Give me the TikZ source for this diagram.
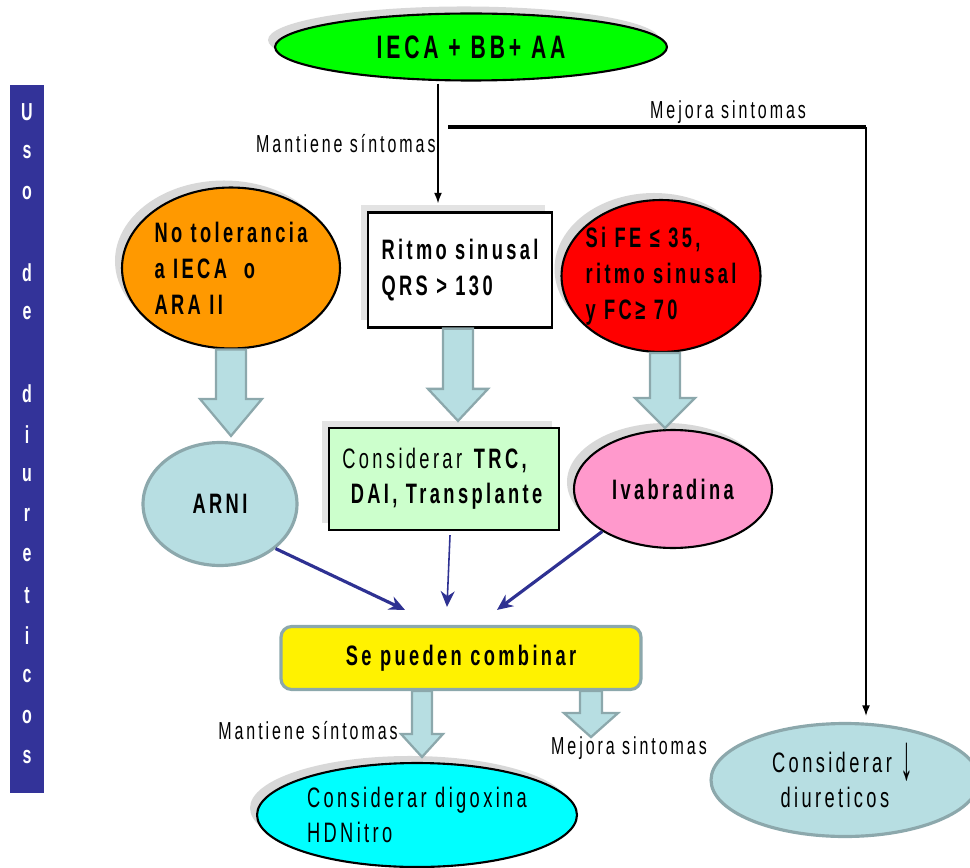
\documentclass[tikz,border=0pt]{standalone}
\usepackage{fontspec}
\setmainfont{Liberation Sans}[FakeStretch=0.65,LetterSpace=12]
\usetikzlibrary{shadows}
\usetikzlibrary{positioning}
\usetikzlibrary{arrows.meta,shapes}
\usetikzlibrary{calc}
\definecolor{barblue}{HTML}{333399}
\definecolor{navyline}{HTML}{2E3192}
\definecolor{paleblue}{HTML}{B7DEE2}
\definecolor{paleedge}{HTML}{8CA8AC}
\definecolor{limegreen}{HTML}{00FF00}
\definecolor{orangefill}{HTML}{FF9900}
\definecolor{pinkfill}{HTML}{FF99CC}
\definecolor{mintfill}{HTML}{CCFFCC}
\definecolor{aquafill}{HTML}{00FFFF}
\tikzstyle{oval}=[ellipse,draw=black,line width=1.2pt,inner sep=0pt,drop shadow={shadow xshift=-4pt,shadow yshift=4pt,fill=black!30,opacity=0.5}]
\tikzstyle{square}=[rectangle,draw=black,line width=1.3pt,inner sep=0pt,drop shadow={shadow xshift=-4pt,shadow yshift=4pt,fill=black!22,opacity=0.5}]
\tikzstyle{paleoval}=[ellipse,draw=paleedge,fill=paleblue,line width=1.8pt,inner sep=0pt]
\tikzstyle{boldtext}=[font=\fontsize{16}{20.5}\selectfont\bfseries]
\tikzstyle{plaintext}=[font=\fontsize{16}{20}\selectfont]
\tikzstyle{sidenote}=[font=\fontsize{14}{16}\selectfont,inner sep=1pt]
\tikzstyle{sidebar}=[rectangle,fill=barblue,minimum width=0.68cm,minimum height=14.16cm,inner sep=0pt]
\tikzstyle{barletter}=[text=white,font=\fontsize{14}{14}\selectfont\bfseries,inner sep=0pt]
\tikzstyle{fatarrow}=[draw=paleedge,fill=paleblue,line width=1.3pt]
\tikzstyle{navyedge}=[draw=navyline,line width=1.8pt,-{Stealth[length=9pt,width=8pt]}]
\tikzstyle{thinedge}=[draw=black,line width=0.8pt,-{Latex[length=6pt,width=4.5pt]}]
\tikzstyle{thickline}=[draw=black,line width=1.8pt]

\begin{document}
\begin{tikzpicture}[x=0.02cm,y=-0.02cm]
    \useasboundingbox (0,0) rectangle (970,868);

    % side bar
    \node[sidebar] (bar) at (27,439) {};
    \foreach \ch/\row in {U/0,s/1,o/2,d/4,e/5,d/7,i/8,u/9,r/10,e/11,t/12,i/13,c/14,o/15,s/16}
        \node[barletter] (letter\row) at (27,{112+40.3*\row}) {\ch};

    % nodes
    \node[oval,fill=limegreen,minimum width=7.84cm,minimum height=1.34cm,font=\fontsize{18.5}{20}\selectfont\bfseries] (ieca) at (471,47) {IECA + BB+ AA};
    \node[oval,fill=orangefill,minimum width=4.36cm,minimum height=3.22cm,inner sep=-8pt,boldtext,align=left] (orange) at (231,268) {No tolerancia\\a IECA\ \ o\\ARA II};
    \node[square,fill=white,minimum width=3.68cm,minimum height=2.3cm,boldtext,align=left] (ritmo) at (460,270) {Ritmo sinusal\\QRS > 130};
    \node[oval,fill=red,minimum width=3.98cm,minimum height=3.04cm,inner sep=-8pt,boldtext,align=left] (red) at (661,276) {Si FE ≤ 35,\\ritmo sinusal\\y FC≥ 70};
    \node[paleoval,minimum width=3.08cm,minimum height=2.46cm,boldtext] (arni) at (220,504) {ARNI};
    \node[square,fill=mintfill,minimum width=4.6cm,minimum height=2.04cm,plaintext,align=left] (trc) at (444,479) {Considerar \textbf{TRC,}\\\textbf{\ DAI, Transplante}};
    \node[oval,fill=pinkfill,minimum width=3.96cm,minimum height=2.36cm,boldtext] (ivab) at (673,489) {Ivabradina};
    \node[rectangle,rounded corners=6pt,draw=paleedge,line width=1.8pt,fill=yellow,minimum width=7.2cm,minimum height=1.26cm,boldtext] (comb) at (461,658) {Se pueden combinar};
    \node[oval,fill=aquafill,minimum width=6.4cm,minimum height=2.08cm,plaintext,align=left] (digox) at (417,815) {Considerar digoxina\\HDNitro};
    \node[paleoval,minimum width=5.36cm,minimum height=2.26cm,plaintext,align=left] (diur) at (845,780) {Considerar \raisebox{-4pt}[0pt][0pt]{\scalebox{1.4}[2.3]{\textbf{↓}}}\\\ diureticos};
    \node[sidenote] (keep2) at (308,731) {Mantiene síntomas};
    \node[sidenote] (better2) at (629,748) {Mejora sintomas};

    % black connectors
    \coordinate (split) at (448,127);
    \coordinate (corner) at (866,127);
    \draw[thinedge] ($(ieca.south)+(-33,2)$) -- node[sidenote,left,pos=0.5] {Mantiene síntomas} ($(ritmo.north)+(-22,-8)$);
    \draw[thickline] (split) -- node[sidenote,above=0pt,pos=0.67] {Mejora sintomas} (corner);
    \draw[thinedge] (corner) -- ($(corner |- diur.north)+(0,-6)$);

    % block arrows
    \coordinate (t1) at ($(orange.south |- arni.north)+(0,-5)$);
    \coordinate (t2) at ($(ritmo.south |- trc.north)+(-2,-6)$);
    \coordinate (t3) at ($(red.south |- ivab.north)+(4,-1)$);
    \coordinate (t4) at ($(digox.north)+(5,-5)$);
    \coordinate (t5) at ($(comb.south)+(130,46)$);
    \foreach \src/\tip/\hw/\hh/\hl in {orange.south/t1/15/31/37, ritmo.south/t2/15/30/32, red.south/t3/15/30/30, comb.south/t4/10/21/23, comb.south/t5/11/27/24}
        \path[fatarrow] ($(\tip |- \src)+(-\hw,0)$) -- ($(\tip)+(-\hw,-\hl)$) -- ($(\tip)+(-\hh,-\hl)$) -- (\tip)
            -- ($(\tip)+(\hh,-\hl)$) -- ($(\tip)+(\hw,-\hl)$) -- ($(\tip |- \src)+(\hw,0)$) -- cycle;

    % navy connectors
    \draw[navyedge] (arni.south east) -- ($(comb.north)+(-56,-15)$);
    \draw[navyedge,line width=0.9pt] ($(trc.south)+(6,4)$) -- ($(trc.south |- comb.north)+(3,-18)$);
    \draw[navyedge] (ivab.south west) -- ($(comb.north)+(36,-15)$);
\end{tikzpicture}
\end{document}
